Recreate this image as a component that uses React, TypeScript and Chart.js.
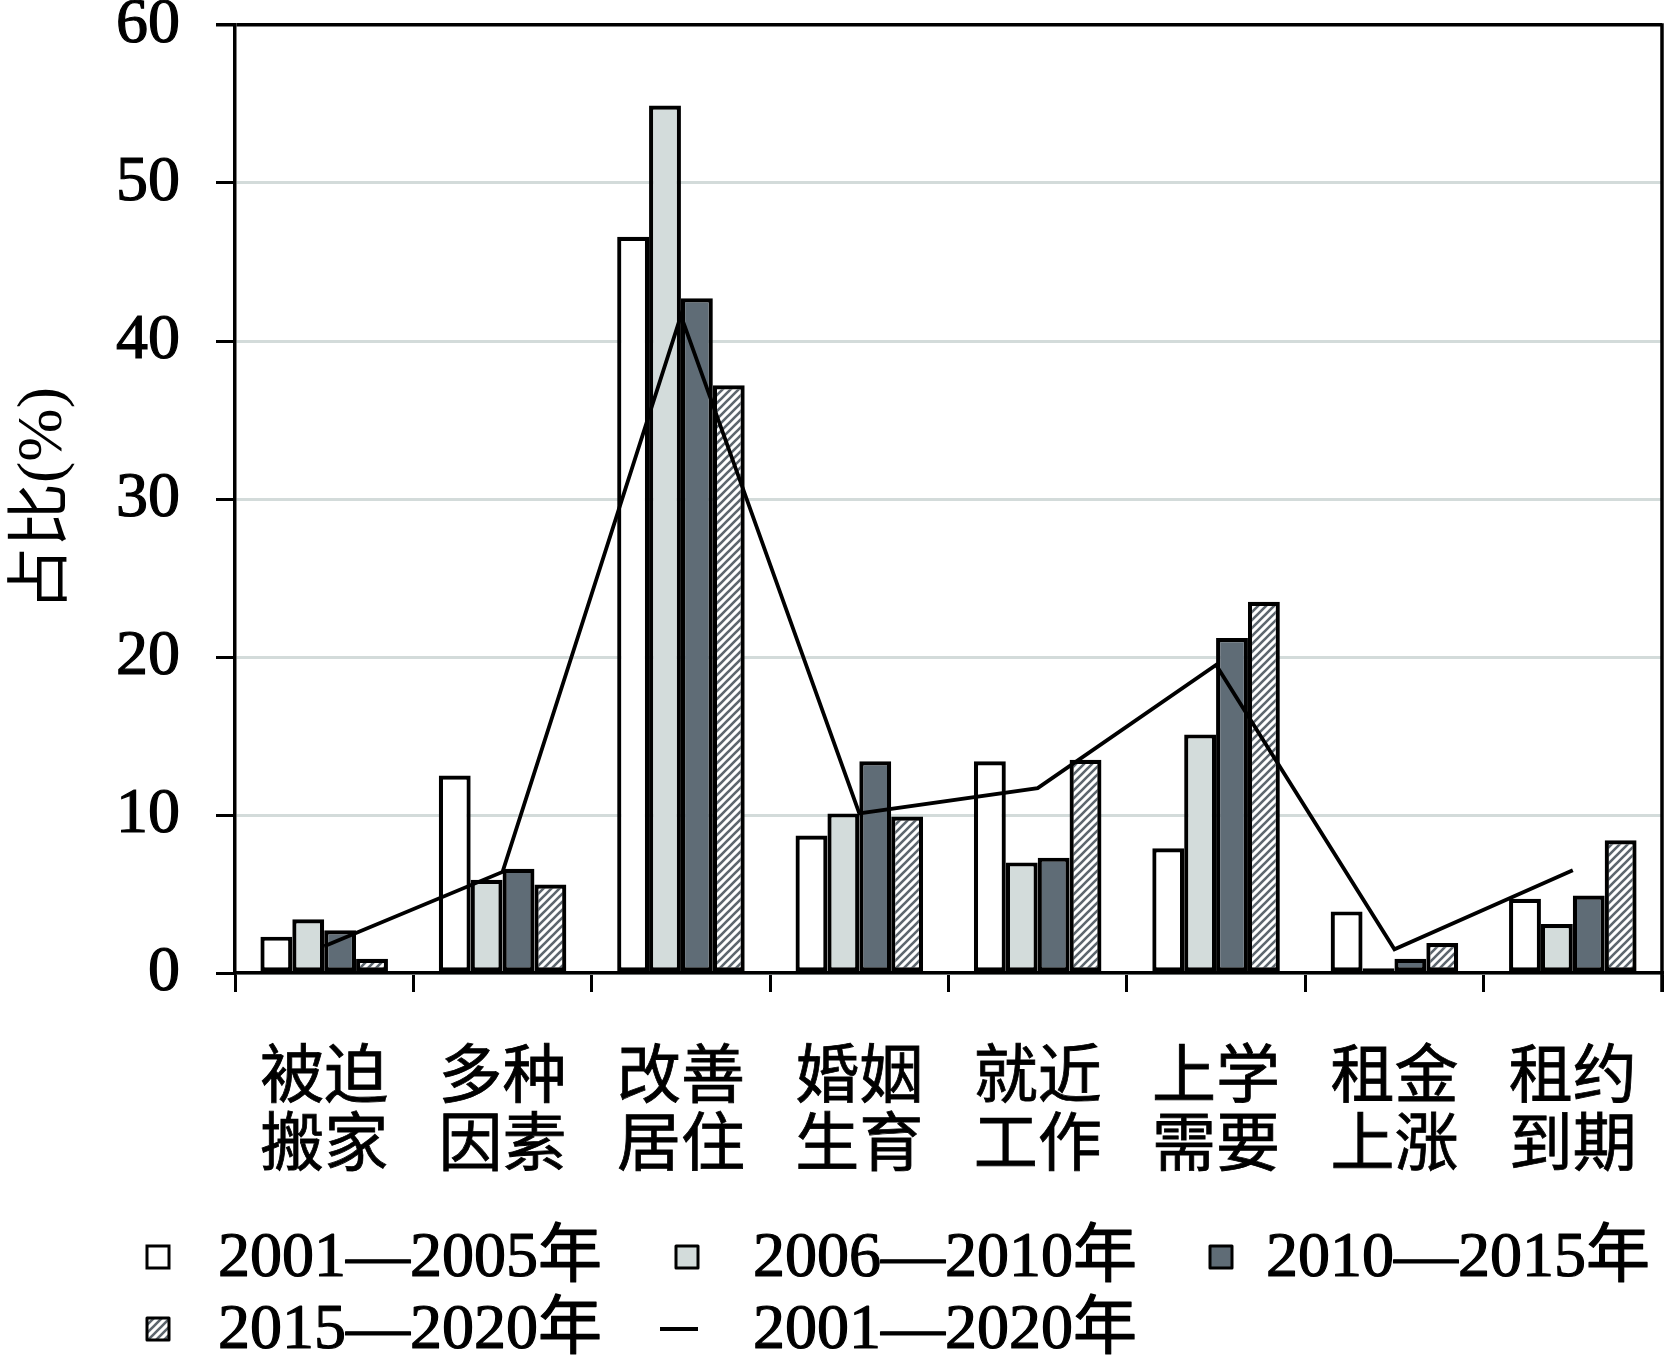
import React, { useEffect, useRef } from "react";
import { Chart, registerables } from "chart.js";

Chart.register(...registerables);

const categories: string[][] = [
  ["被迫", "搬家"],
  ["多种", "因素"],
  ["改善", "居住"],
  ["婚姻", "生育"],
  ["就近", "工作"],
  ["上学", "需要"],
  ["租金", "上涨"],
  ["租约", "到期"],
];

const seriesLabels = ["2001—2005年", "2006—2010年", "2010—2015年", "2015—2020年", "2001—2020年"];

const s2001_2005 = [2.3, 12.5, 46.6, 8.7, 13.4, 7.9, 3.9, 4.7];
const s2006_2010 = [3.4, 5.9, 54.9, 10.1, 7.0, 15.1, 0.3, 3.1];
const s2010_2015 = [2.7, 6.6, 42.7, 13.4, 7.3, 21.2, 0.9, 4.9];
const s2015_2020 = [0.9, 5.6, 37.2, 9.9, 13.5, 23.5, 1.9, 8.4];
const s2001_2020 = [1.7, 6.4, 41.6, 10.1, 11.7, 19.5, 1.5, 6.5];

const yTicks = [0, 10, 20, 30, 40, 50, 60];
const yTitle = "占比(%)";

const FONT = '"Liberation Serif", "Noto Sans CJK SC", serif';
const LIGHT = "#d3dcdb";
const DARK = "#5f6c76";
const GRID = "#d3dbda";

function makeHatch(): CanvasPattern | string {
  const c = document.createElement("canvas");
  c.width = 8;
  c.height = 8;
  const g = c.getContext("2d");
  if (!g) return "#ffffff";
  g.fillStyle = "#ffffff";
  g.fillRect(0, 0, 8, 8);
  g.strokeStyle = "#5d666e";
  g.lineWidth = 2.6;
  g.beginPath();
  g.moveTo(-1, 9);
  g.lineTo(9, -1);
  g.moveTo(-3, 3);
  g.lineTo(3, -3);
  g.moveTo(5, 11);
  g.lineTo(11, 5);
  g.stroke();
  const p = g.createPattern(c, "repeat");
  return p || "#ffffff";
}

export default function App() {
  const ref = useRef<HTMLCanvasElement | null>(null);

  useEffect(() => {
    const canvas = ref.current;
    if (!canvas) return;
    const hatch = makeHatch();

    const frame = {
      id: "frame",
      afterDatasetsDraw(chart: any) {
        const { ctx, chartArea } = chart;
        ctx.save();
        ctx.strokeStyle = "#000";
        ctx.lineWidth = 3.5;
        ctx.beginPath();
        ctx.moveTo(chartArea.right, chartArea.top - 1.75);
        ctx.lineTo(chartArea.right, chartArea.bottom + 19);
        ctx.stroke();
        ctx.restore();
      },
    };

    const legendPlugin = {
      id: "customLegend",
      afterDraw(chart: any) {
        const { ctx } = chart;
        const ds = chart.data.datasets;
        const items = [
          { i: 0, x: 147, y: 1257, tx: 218 },
          { i: 1, x: 676, y: 1257, tx: 753 },
          { i: 2, x: 1210, y: 1257, tx: 1266 },
          { i: 3, x: 147, y: 1329, tx: 218 },
          { i: 4, x: 660, y: 1329, tx: 753 },
        ];
        ctx.save();
        ctx.font = `64px ${FONT}`;
        ctx.textBaseline = "middle";
        ctx.textAlign = "left";
        ctx.fillStyle = "#000";
        items.forEach((it) => {
          const d = ds[it.i];
          if (d.type === "line") {
            ctx.strokeStyle = "#000";
            ctx.lineWidth = 4;
            ctx.beginPath();
            ctx.moveTo(it.x, it.y);
            ctx.lineTo(it.x + 38, it.y);
            ctx.stroke();
          } else {
            const s = 22;
            ctx.fillStyle = d.backgroundColor;
            ctx.fillRect(it.x, it.y - s / 2, s, s);
            ctx.strokeStyle = "#000";
            ctx.lineWidth = 3;
            ctx.strokeRect(it.x, it.y - s / 2, s, s);
          }
          ctx.fillStyle = "#000";
          ctx.strokeStyle = "#000";
          ctx.lineWidth = 1.2;
          ctx.lineJoin = "round";
          ctx.strokeText(d.label, it.tx, it.y + 2);
          ctx.fillText(d.label, it.tx, it.y + 2);
        });
        ctx.restore();
      },
    };

    const barCommon = {
      borderColor: "#000",
      borderWidth: 4.2,
      borderSkipped: false as any,
      categoryPercentage: 0.715,
      barPercentage: 1.0,
      order: 1,
    };

    const chart = new Chart(canvas, {
      type: "bar",
      data: {
        labels: categories,
        datasets: [
          { ...barCommon, type: "bar", label: seriesLabels[0], data: s2001_2005, backgroundColor: "#ffffff" },
          { ...barCommon, type: "bar", label: seriesLabels[1], data: s2006_2010, backgroundColor: LIGHT },
          { ...barCommon, type: "bar", label: seriesLabels[2], data: s2010_2015, backgroundColor: DARK },
          { ...barCommon, type: "bar", label: seriesLabels[3], data: s2015_2020, backgroundColor: hatch as any },
          {
            type: "line",
            label: seriesLabels[4],
            data: s2001_2020,
            borderColor: "#000",
            borderWidth: 3.8,
            pointRadius: 0,
            tension: 0,
            fill: false,
            order: 0,
          } as any,
        ],
      },
      options: {
        animation: false,
        responsive: false,
        devicePixelRatio: 1,
        layout: { padding: { top: 0, right: 4, bottom: 0, left: 0 } },
        plugins: {
          legend: { display: false },
          tooltip: { enabled: false },
        },
        scales: {
          x: {
            type: "category",
            offset: true,
            grid: {
              display: true,
              drawOnChartArea: false,
              drawTicks: true,
              color: "#000",
              tickColor: "#000",
              lineWidth: 3,
              tickLength: 19,
              offset: true,
            },
            border: { display: true, color: "#000", width: 3.5 },
            ticks: {
              color: "#000",
              font: { family: FONT, size: 64, lineHeight: 68 / 64 },
              padding: 54,
              maxRotation: 0,
              minRotation: 0,
              autoSkip: false,
              textStrokeColor: "#000",
              textStrokeWidth: 0.8,
            },
            afterFit: (scale: any) => {
              scale.height = 388;
              scale.paddingLeft = 0;
              scale.paddingRight = 0;
            },
          },
          y: {
            min: 0,
            max: 60,
            afterBuildTicks: (scale: any) => {
              scale.ticks = yTicks.map((v) => ({ value: v }));
            },
            grid: {
              color: (c: any) => (c.tick && c.tick.value === 60 ? "#000" : GRID),
              lineWidth: (c: any) => (c.tick && c.tick.value === 60 ? 3.5 : 3),
              tickColor: "#000",
              tickLength: 19,
              drawTicks: true,
            },
            border: { display: true, color: "#000", width: 3.5 },
            ticks: {
              color: "#000",
              font: { family: FONT, size: 64, lineHeight: 0.8 },
              padding: 36,
              textStrokeColor: "#000",
              textStrokeWidth: 1.2,
            },
            title: {
              display: true,
              text: yTitle,
              color: "#000",
              font: { family: FONT, size: 64 },
              padding: { top: 6, bottom: 0 },
            },
            afterFit: (scale: any) => {
              scale.width = 235;
              scale.paddingTop = 25;
              scale.paddingBottom = 0;
            },
          },
        },
      },
      plugins: [frame, legendPlugin],
    } as any);

    return () => {
      chart.destroy();
    };
  }, []);

  return (
    <div style={{ position: "fixed", left: 0, top: 0, width: 1666, height: 1361, background: "#fff" }}>
      <canvas ref={ref} width={1666} height={1361} style={{ width: "1666px", height: "1361px", display: "block" }} />
    </div>
  );
}
